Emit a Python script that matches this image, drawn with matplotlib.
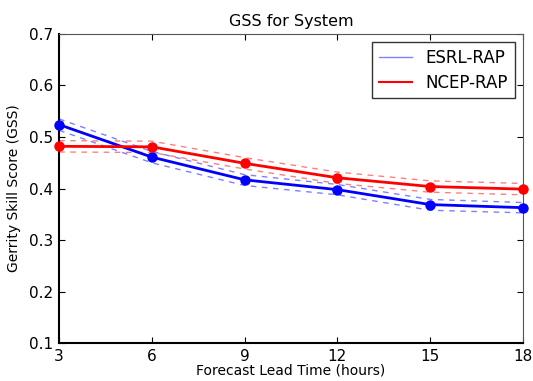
import matplotlib
matplotlib.use('Agg')
import matplotlib.pyplot as plt
import numpy as np

# forecast lead times (hours)
lead = [3, 6, 9, 12, 15, 18]

# ESRL-RAP GSS and confidence bounds
esrl = [0.524, 0.461, 0.417, 0.398, 0.369, 0.363]
esrl_hi = [0.535, 0.472, 0.427, 0.408, 0.379, 0.373]
esrl_lo = [0.513, 0.450, 0.406, 0.388, 0.358, 0.353]

# NCEP-RAP GSS and confidence bounds
ncep = [0.482, 0.481, 0.449, 0.421, 0.404, 0.399]
ncep_hi = [0.493, 0.492, 0.460, 0.432, 0.415, 0.410]
ncep_lo = [0.471, 0.470, 0.438, 0.410, 0.393, 0.388]

yticks = [0.1, 0.2, 0.3, 0.4, 0.5, 0.6, 0.7]


def main():
	fig = plt.figure(figsize=(5.33, 3.81), dpi=100)
	ax = fig.add_axes([0.111, 0.099, 0.870, 0.812])

	# dashed bounds
	for y in (esrl_hi, esrl_lo):
		ax.plot(lead, y, color='blue', ls='--', lw=1, alpha=0.5, dashes=(4, 4))
	for y in (ncep_hi, ncep_lo):
		ax.plot(lead, y, color='red', ls='--', lw=1, alpha=0.5, dashes=(4, 4))

	ax.plot(lead, esrl, color='blue', lw=2, marker='o', ms=6.5, clip_on=False, zorder=5)
	ax.plot(lead, ncep, color='red', lw=2, marker='o', ms=6.5, clip_on=False, zorder=5)

	# legend handles
	h1, = ax.plot([], [], color='blue', lw=1, alpha=0.5, label='ESRL-RAP')
	h2, = ax.plot([], [], color='red', lw=1.5, label='NCEP-RAP')
	leg = ax.legend(handles=[h1, h2], loc='upper right', fontsize=12, fancybox=False,
		handlelength=2.0, borderpad=0.4, labelspacing=0.4)
	leg.get_frame().set_edgecolor('black')

	ax.set_xlim(3, 18)
	ax.set_ylim(0.1, 0.7)
	ax.set_xticks(lead)
	ax.set_yticks(yticks)
	ax.tick_params(direction='in', top=True, right=True, labelsize=11, length=4, pad=4)
	ax.set_title('GSS for System', fontsize=11.5)
	ax.set_xlabel('Forecast Lead Time (hours)', fontsize=10, labelpad=0)
	ax.set_ylabel('Gerrity Skill Score (GSS)', fontsize=10, labelpad=6)
	for s in ('top', 'right'):
		ax.spines[s].set_color('#555555')
	ax.spines['left'].set_linewidth(1.5)
	ax.spines['bottom'].set_linewidth(1.5)

	fig.savefig('out.png', dpi=100)


if __name__ == '__main__':
	main()
